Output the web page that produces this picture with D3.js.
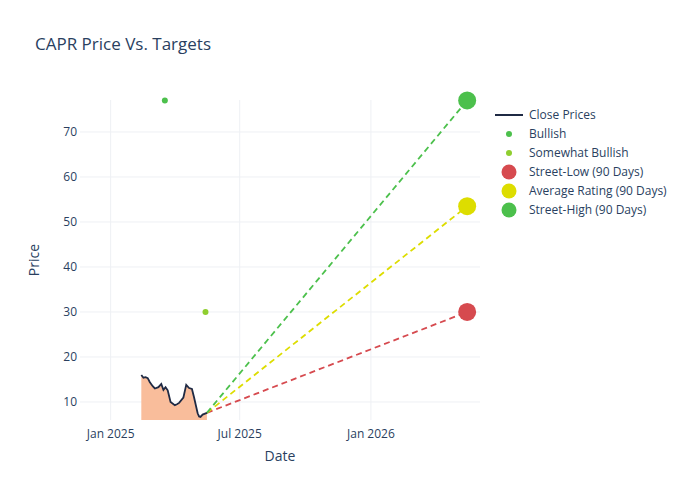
<!DOCTYPE html><html><head><script src="https://cdn.jsdelivr.net/npm/d3@7"></script>
<style>body{margin:0;background:#fff}text{font-family:"Open Sans",sans-serif}</style></head><body><svg id="c" width="700" height="500"></svg><script>
const priceDates=["2025-02-13","2025-02-16","2025-02-19","2025-02-22","2025-02-25","2025-03-01","2025-03-04","2025-03-09","2025-03-13","2025-03-16","2025-03-19","2025-03-22","2025-03-26","2025-04-01","2025-04-04","2025-04-07","2025-04-13","2025-04-17","2025-04-21","2025-04-25","2025-04-28","2025-05-03","2025-05-05","2025-05-07","2025-05-10","2025-05-16"];
const priceVals=[16,15.4,15.5,15.3,14.4,13.5,13,13.3,14,12.7,13.3,12.6,10,9.3,9.5,9.8,11,13.8,13.1,12.9,11,7.5,6.8,6.7,7.2,7.6];
const bullDates=["2025-03-18"],bullVals=[77];
const sbDates=["2025-05-14"],sbVals=[30];
const targetDate="2026-05-16";
const targetNames=["Street-Low (90 Days)","Average Rating (90 Days)","Street-High (90 Days)"];
const targetVals=[30,53.5,77];
const targetColors=["#d64a4f","#dddd00","#4cc04c"];
const xTicks=["2025-01-01","2025-07-01","2026-01-01"],xTickLabels=["Jan 2025","Jul 2025","Jan 2026"];
const yTicks=[10,20,30,40,50,60,70];
const P=d3.timeParse("%Y-%m-%d");
const svg=d3.select("#c"),L=80,R=480,T=100,B=420;
const x=d3.scaleTime().domain([P("2024-11-19"),P("2026-06-03")]).range([L,R]);
const y=d3.scaleLinear().domain([6,77.1]).range([B,T]);
const g=svg.append("g");
g.selectAll(".yg").data(yTicks).join("line").attr("x1",L).attr("x2",R).attr("y1",d=>y(d)).attr("y2",d=>y(d)).attr("stroke","#eef0f4");
g.selectAll(".xg").data(xTicks).join("line").attr("x1",d=>x(P(d))).attr("x2",d=>x(P(d))).attr("y1",T).attr("y2",B).attr("stroke","#eef0f4");
g.selectAll(".yt").data(yTicks).join("text").attr("x",L-3).attr("y",d=>y(d)+4).attr("text-anchor","end").attr("font-size",12).attr("fill","#2a3f5f").text(d=>d);
g.selectAll(".xt").data(xTicks).join("text").attr("x",d=>x(P(d))).attr("y",B+14+4).attr("text-anchor","middle").attr("font-size",12).attr("fill","#2a3f5f").text((d,i)=>xTickLabels[i]);
const pts=priceDates.map((d,i)=>[P(d),priceVals[i]]);
g.append("path").datum(pts).attr("d",d3.area().x(d=>x(d[0])).y0(B).y1(d=>y(d[1]))).attr("fill","#f9bd9b");
const last=pts[pts.length-1];
targetVals.forEach((v,i)=>g.append("line").attr("x1",x(last[0])).attr("y1",y(last[1])).attr("x2",x(P(targetDate))).attr("y2",y(v)).attr("stroke",targetColors[i]).attr("stroke-width",1.8).attr("stroke-dasharray","6,4"));
g.append("path").datum(pts).attr("d",d3.line().x(d=>x(d[0])).y(d=>y(d[1]))).attr("fill","none").attr("stroke","#1f2a44").attr("stroke-width",1.8);
bullDates.forEach((d,i)=>g.append("circle").attr("cx",x(P(d))).attr("cy",y(bullVals[i])).attr("r",3).attr("fill","#4cc04c"));
sbDates.forEach((d,i)=>g.append("circle").attr("cx",x(P(d))).attr("cy",y(sbVals[i])).attr("r",3).attr("fill","#8fce2f"));
targetVals.forEach((v,i)=>g.append("circle").attr("cx",x(P(targetDate))).attr("cy",y(v)).attr("r",9).attr("fill",targetColors[i]));
svg.append("text").attr("x",35).attr("y",50).attr("font-size",17).attr("fill","#2a3f5f").text("CAPR Price Vs. Targets");
svg.append("text").attr("x",280).attr("y",461).attr("text-anchor","middle").attr("font-size",14).attr("fill","#2a3f5f").text("Date");
svg.append("text").attr("transform","translate(39,260) rotate(-90)").attr("text-anchor","middle").attr("font-size",14).attr("fill","#2a3f5f").text("Price");
const leg=[["Close Prices","line","#1f2a44"],["Bullish","s","#4cc04c"],["Somewhat Bullish","s","#8fce2f"]].concat(targetNames.map((n,i)=>[n,"b",targetColors[i]]));
leg.forEach((l,i)=>{const yy=115+i*19,lg=svg.append("g");
if(l[1]=="line")lg.append("line").attr("x1",495).attr("x2",523).attr("y1",yy).attr("y2",yy).attr("stroke",l[2]).attr("stroke-width",2);
else lg.append("circle").attr("cx",509).attr("cy",yy).attr("r",l[1]=="s"?3:7.5).attr("fill",l[2]);
lg.append("text").attr("x",529).attr("y",yy+4).attr("font-size",12).attr("fill","#2a3f5f").text(l[0]);});
</script></body></html>
